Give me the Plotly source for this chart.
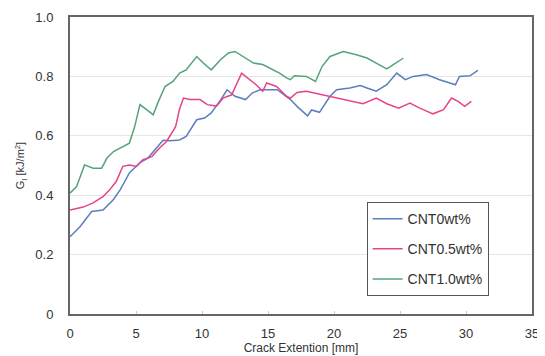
import plotly.graph_objects as go

x_cnt0 = [0, 0.76, 1.64, 2.5, 3.26, 3.8, 4.5, 5.3, 5.9, 6.6, 7.05, 7.6, 8.3, 8.8, 9.6, 10.2, 10.7, 11.4, 11.9, 12.5,
          13.3, 13.8, 14.4, 15.7, 16.7, 17.3, 18.0, 18.3, 18.9, 19.7, 20.2, 21.2, 22.0, 22.5, 23.2, 24.0, 24.75, 25.4,
          26.0, 27.0, 28.0, 29.2, 29.5, 30.3, 30.9]
y_cnt0 = [0.26, 0.294, 0.345, 0.35, 0.384, 0.418, 0.475, 0.51, 0.525, 0.56, 0.585, 0.583, 0.586, 0.598, 0.654, 0.66,
          0.677, 0.72, 0.755, 0.733, 0.722, 0.744, 0.755, 0.755, 0.722, 0.695, 0.667, 0.687, 0.679, 0.733, 0.755,
          0.761, 0.769, 0.761, 0.75, 0.772, 0.811, 0.789, 0.8, 0.806, 0.789, 0.772, 0.8, 0.802, 0.82]

x_cnt05 = [0, 1, 1.75, 2.5, 3, 3.5, 4, 4.5, 5.05, 5.5, 6.2, 6.8, 7.3, 8, 8.3, 8.6, 9.1, 9.85, 10.4, 11.1, 11.6, 12.25,
           13, 13.6, 14.1, 14.6, 14.9, 15.65, 16.4, 16.7, 17.2, 17.9, 19.2, 20.2, 21.5, 22.2, 23.2, 24, 24.9, 25.75,
           26.5, 27.5, 28.3, 28.9, 29.4, 29.9, 30.4]
y_cnt05 = [0.35, 0.36, 0.374, 0.395, 0.418, 0.446, 0.497, 0.502, 0.497, 0.519, 0.53, 0.56, 0.58, 0.631, 0.69, 0.727,
           0.722, 0.722, 0.705, 0.7, 0.727, 0.738, 0.811, 0.789, 0.772, 0.75, 0.778, 0.766, 0.733, 0.727, 0.746, 0.75,
           0.738, 0.727, 0.716, 0.708, 0.727, 0.708, 0.693, 0.71, 0.693, 0.674, 0.688, 0.727, 0.716, 0.699, 0.716]

x_cnt10 = [0, 0.5, 1.1, 1.75, 2.4, 2.8, 3.3, 4, 4.5, 4.9, 5.3, 5.8, 6.3, 6.7, 7.2, 7.8, 8.3, 8.8, 9.6, 10.1, 10.7,
           11.4, 12, 12.5, 13.1, 13.9, 14.6, 15.4, 15.9, 16.4, 16.7, 17, 17.9, 18.6, 19.1, 19.7, 20.7, 21.7, 22.5,
           23.2, 24, 24.9, 25.25]
y_cnt10 = [0.407, 0.429, 0.502, 0.491, 0.491, 0.525, 0.547, 0.564, 0.575, 0.631, 0.705, 0.688, 0.671, 0.716, 0.766,
           0.783, 0.811, 0.822, 0.867, 0.845, 0.822, 0.856, 0.879, 0.884, 0.867, 0.845, 0.84, 0.822, 0.81, 0.795,
           0.789, 0.802, 0.8, 0.783, 0.834, 0.867, 0.884, 0.873, 0.862, 0.845, 0.825, 0.851, 0.862]

names = ["CNT0wt%", "CNT0.5wt%", "CNT1.0wt%"]
colors = ["#5b7fbd", "#e8428a", "#55a37a"]
x_ticks = [0, 5, 10, 15, 20, 25, 30, 35]
y_ticks = [0, 0.2, 0.4, 0.6, 0.8, 1.0]
y_ticktext = ["0", "0.2", "0.4", "0.6", "0.8", "1.0"]

fig = go.Figure()
for i, (xs, ys) in enumerate([(x_cnt0, y_cnt0), (x_cnt05, y_cnt05), (x_cnt10, y_cnt10)]):
    fig.add_trace(go.Scatter(x=xs, y=ys, mode="lines", name=names[i], legendgroup=names[i],
                             line=dict(color=colors[i], width=1.5)))

# page body adds an 8px offset, so the figure is drawn 8px smaller and margins shifted
fig.update_layout(
    width=537, height=348,
    margin=dict(l=62, r=13, t=9, b=42),
    paper_bgcolor="white", plot_bgcolor="white",
    font=dict(family="Liberation Sans, Arial, sans-serif", color="#333333", size=13),
    showlegend=True,
    legend=dict(x=0.642, y=0.377, xanchor="left", yanchor="top",
                bordercolor="#555555", borderwidth=1, bgcolor="white",
                font=dict(size=14, color="#333333"), tracegroupgap=9,
                itemwidth=30),
)
fig.update_xaxes(range=[0, 35], tickvals=x_ticks, showgrid=False, zeroline=False, automargin=False,
                 showline=True, linecolor="#666666", linewidth=2, mirror=True,
                 ticks="inside", ticklen=3, tickcolor="#cccccc", ticklabelstandoff=6,
                 title=dict(text="Crack Extention [mm]", standoff=2, font=dict(size=12)),
                 tickfont=dict(size=13))
fig.update_yaxes(range=[0, 1.0], tickvals=y_ticks, ticktext=y_ticktext, showgrid=True,
                 gridcolor="#e6e6e6", gridwidth=1, zeroline=False, automargin=False,
                 showline=True, linecolor="#666666", linewidth=2, mirror=True,
                 ticks="", ticklabelstandoff=12,
                 title=dict(text="G<sub>I</sub> [kJ/m<sup>2</sup>]", standoff=8, font=dict(size=11)),
                 tickfont=dict(size=13))

fig.write_html("out.html")
